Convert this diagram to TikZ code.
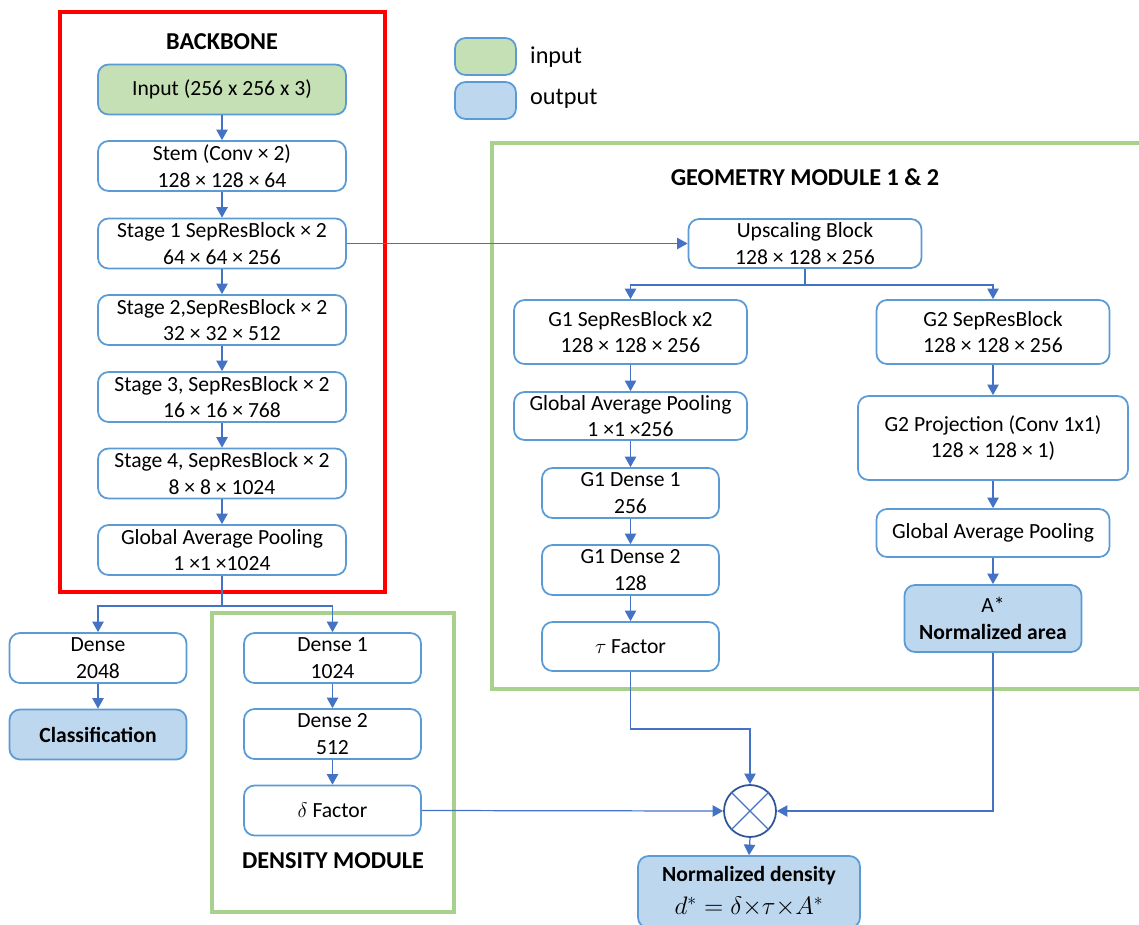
\documentclass[tikz,border=0pt]{standalone}
\usepackage{fontspec}
\setmainfont{Carlito}
\usetikzlibrary{arrows.meta}
\definecolor{boxc}{RGB}{91,155,213}
\definecolor{arrc}{RGB}{68,114,196}
\definecolor{infill}{RGB}{197,224,180}
\definecolor{outfill}{RGB}{189,215,238}
\definecolor{grnframe}{RGB}{169,209,142}
\definecolor{multc}{RGB}{47,85,151}
\tikzset{%
  blk/.style={draw=boxc, line width=1pt, rounded corners=6pt, align=center,
              inner sep=0pt, font=\fontsize{12.3}{15}\selectfont},
  arr/.style={draw=arrc, line width=0.7pt, -{Triangle[length=6pt, width=6.5pt]}},
  ttl/.style={font=\fontsize{13.8}{16}\selectfont\bfseries},
}

\begin{document}
\begin{tikzpicture}[x=0.02cm, y=-0.02cm]
    \useasboundingbox (0,0) rectangle (1139,924);

    %frames
    \draw[red, line width=2.8pt] (60,12) rectangle (385,592);
    \draw[grnframe, line width=2.3pt] (212,613) rectangle (454,912);
    \draw[grnframe, line width=2.3pt] (492,143) rectangle (1145,689);
    \node[ttl] (tbb) at (222,42) {BACKBONE};
    \node[ttl] (tdm) at (333,861) {DENSITY MODULE};
    \node[ttl] (tgm) at (805,177) {GEOMETRY MODULE 1 \& 2};

    %legend
    \node[blk, fill=infill, minimum width=61*0.02cm, minimum height=37*0.02cm] (lin) at (485.5,56.5) {};
    \node[blk, fill=outfill, minimum width=61*0.02cm, minimum height=37*0.02cm] (lout) at (485.5,100.5) {};
    \node[anchor=west, font=\fontsize{13.8}{16}\selectfont] (tin) at (524,57) {input};
    \node[anchor=west, font=\fontsize{13.8}{16}\selectfont] (tout) at (524,99) {output};

    %backbone
    \tikzset{bb/.style={blk, minimum width=248*0.02cm, minimum height=50*0.02cm}}
    \node[bb, fill=infill] (inp) at (222,89.5) {Input (256 x 256 x 3)};
    \node[bb] (stem) at (222,166) {Stem (Conv × 2)\\128 × 128 × 64};
    \node[bb] (st1) at (222,243.5) {Stage 1 SepResBlock × 2\\64 × 64 × 256};
    \node[bb] (st2) at (222,320) {Stage 2,SepResBlock × 2\\32 × 32 × 512};
    \node[bb] (st3) at (222,397) {Stage 3, SepResBlock × 2\\16 × 16 × 768};
    \node[bb] (st4) at (222,473.5) {Stage 4, SepResBlock × 2\\8 × 8 × 1024};
    \node[bb] (gapb) at (222,550) {Global Average Pooling\\1 ×1 ×1024};
    \foreach \a/\b in {inp/stem, stem/st1, st1/st2, st2/st3, st3/st4, st4/gapb}
        \draw[arr] (\a.south) -- (\b.north);

    %classification and density
    \tikzset{sm/.style={blk, minimum width=177*0.02cm, minimum height=50*0.02cm}}
    \node[sm] (dense) at (98,658) {Dense\\2048};
    \node[sm, fill=outfill, font=\fontsize{12.3}{15}\selectfont\bfseries] (cls) at (98,734.5) {Classification};
    \node[sm] (dens1) at (332.5,658) {Dense 1\\1024};
    \node[sm] (dens2) at (332.5,734) {Dense 2\\512};
    \node[sm] (delta) at (332.5,810.5) {$\delta$ Factor};
    \draw[draw=arrc, line width=0.7pt] (gapb.south) -- ++(0,30) coordinate (sp);
    \draw[arr] (sp) -| (dense.north);
    \draw[arr] (sp) -| (dens1.north);
    \draw[arr] (dense) -- (cls);
    \draw[arr] (dens1) -- (dens2);
    \draw[arr] (dens2) -- (delta);

    %geometry module
    \tikzset{gm/.style={blk, minimum width=233*0.02cm, minimum height=64*0.02cm}}
    \node[gm, minimum height=49*0.02cm] (up) at (805,243.5) {Upscaling Block\\128 × 128 × 256};
    \node[gm] (g1sep) at (630.5,332) {G1 SepResBlock x2\\128 × 128 × 256};
    \node[gm, minimum height=48*0.02cm] (g1gap) at (630.5,416) {Global Average Pooling\\1 ×1 ×256};
    \node[sm] (g1d1) at (630.5,493) {G1 Dense 1\\256};
    \node[sm] (g1d2) at (630.5,570) {G1 Dense 2\\128};
    \node[sm, minimum height=49*0.02cm] (tau) at (630.5,646.5) {$\tau$ Factor};
    \node[gm] (g2sep) at (993,332) {G2 SepResBlock\\128 × 128 × 256};
    \node[gm, minimum width=270*0.02cm, minimum height=84*0.02cm] (g2proj) at (993,438) {G2 Projection (Conv 1x1)\\128 × 128 × 1)};
    \node[gm, minimum height=48*0.02cm] (g2gap) at (993,533) {Global Average Pooling};
    \node[sm, minimum height=67*0.02cm, fill=outfill] (area) at (993,618.5) {A*\\\textbf{Normalized area}};
    \draw[arr] (st1.east) -- (up.west);
    \draw[draw=arrc, line width=0.7pt] (up.south) -- ++(0,16) coordinate (up2);
    \draw[arr] (up2) -| (g1sep.north);
    \draw[arr] (up2) -| (g2sep.north);
    \foreach \a/\b in {g1sep/g1gap, g1gap/g1d1, g1d1/g1d2, g1d2/tau, g2sep/g2proj, g2proj/g2gap, g2gap/area}
        \draw[arr] (\a.south) -- (\b.north);

    %product
    \node[circle, draw=multc, line width=1pt, minimum size=52*0.02cm, inner sep=0pt] (mult) at (750,811) {};
    \draw[draw=arrc, line width=0.7pt] (mult.north west) -- (mult.south east)
        (mult.north east) -- (mult.south west);
    \node[blk, fill=outfill, minimum width=222*0.02cm, minimum height=72*0.02cm] (nd) at (749,892) {};
    \node[inner sep=0pt, font=\fontsize{12.3}{15}\selectfont\bfseries] (ndt) at (749,876) {Normalized density};
    \node[inner sep=0pt, font=\fontsize{14}{16}\selectfont] (ndf) at (749,907) {$d^{*} = \delta{\times}\tau{\times}A^{*}$};
    \draw[arr] (tau.south) -- ++(0,57) -| (mult.north);
    \draw[arr] (area.south) |- (mult.east);
    \draw[arr] (delta.east) -- (mult.west);
    \draw[arr] (mult.south) -- (nd.north);
\end{tikzpicture}
\end{document}
